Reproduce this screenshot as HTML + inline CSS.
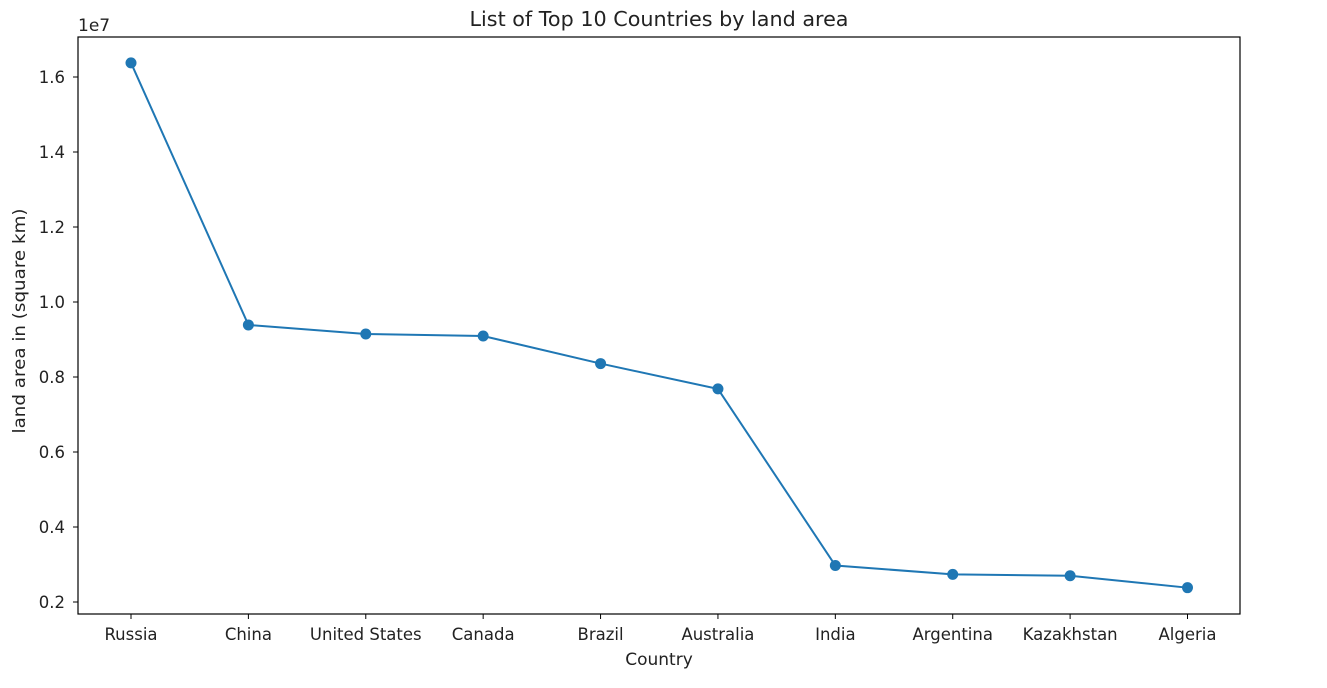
<!DOCTYPE html>
<html><head><meta charset="utf-8"><style>
body{margin:0;background:#fff;}
svg text{font-family:"DejaVu Sans","Liberation Sans",sans-serif;fill:#222;}
</style></head><body>
<svg id="chart" width="1327" height="683" viewBox="0 0 1327 683" xmlns="http://www.w3.org/2000/svg">
<rect x="0" y="0" width="1327" height="683" fill="#fff"/>
<text x="659" y="26" font-size="20" text-anchor="middle" textLength="379" lengthAdjust="spacingAndGlyphs">List of Top 10 Countries by land area</text>
<text x="78" y="31" font-size="17">1e7</text>
<text x="659" y="665" font-size="17" text-anchor="middle">Country</text>
<text x="25" y="321" font-size="17" text-anchor="middle" transform="rotate(-90 25 321)" textLength="225" lengthAdjust="spacingAndGlyphs">land area in (square km)</text>
<g id="ticks"></g>
<g id="marks"></g>
<rect x="78" y="37" width="1162" height="577" fill="none" stroke="#000" stroke-width="1.2"/>
</svg>
<script>
const categories=["Russia","China","United States","Canada","Brazil","Australia","India","Argentina","Kazakhstan","Algeria"];
const values=[16377742,9388211,9147420,9093510,8358140,7682300,2973190,2736690,2699700,2381741];
const yTicks=[0.2,0.4,0.6,0.8,1.0,1.2,1.4,1.6];
const yTickLabels=["0.2","0.4","0.6","0.8","1.0","1.2","1.4","1.6"];
const NS="http://www.w3.org/2000/svg";
function xScale(i){return 131+i*(1187.5-131)/(categories.length-1);}
function yScale(v){return 602-(v/1e7-0.2)*375;}
const tk=document.getElementById('ticks'),mk=document.getElementById('marks');
function el(t,a){const e=document.createElementNS(NS,t);for(const k in a)e.setAttribute(k,a[k]);return e;}
yTicks.forEach((t,i)=>{
  const y=yScale(t*1e7);
  const l=el('line',{x1:73,x2:78,y1:y,y2:y,stroke:'#000'});
  
  
  tk.appendChild(l);
  const tx=el('text',{x:65,y:y+6,'font-size':16.5,'text-anchor':'end'});
  tx.textContent=yTickLabels[i];
  
  
  tk.appendChild(tx);
});
categories.forEach((c,i)=>{
  const x=xScale(i);
  const l=el('line',{x1:x,x2:x,y1:614,y2:619,stroke:'#000'});
  
  
  tk.appendChild(l);
  const tx=el('text',{x:x,y:640,'font-size':16.5,'text-anchor':'middle'});
  tx.textContent=c;
  
  
  tk.appendChild(tx);
});
const pts=values.map((v,i)=>xScale(i)+','+yScale(v)).join(' ');
const pl=el('polyline',{points:pts,fill:'none',stroke:'#1f77b4','stroke-width':2});


mk.appendChild(pl);
values.forEach((v,i)=>{
  const c=el('circle',{cx:xScale(i),cy:yScale(v),r:5.5,fill:'#1f77b4'});
  
  
  mk.appendChild(c);
});
</script>
</body></html>
